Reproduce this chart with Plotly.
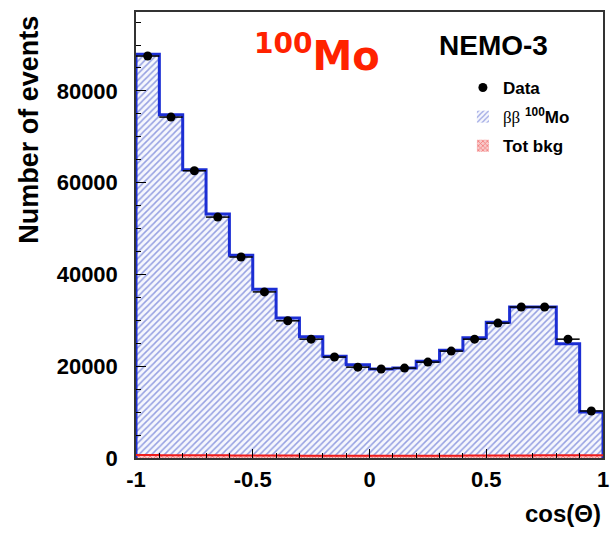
import plotly.graph_objects as go

# Angular distribution between the two electrons, 20 bins over [-1, 1]
bin_edges = [round(-1 + 0.1 * i, 1) for i in range(21)]
bin_centers = [round(-0.95 + 0.1 * i, 2) for i in range(20)]

data_counts = [87600, 74300, 62600, 52500, 43800, 36200, 29900, 25900, 22000, 19800,
               19400, 19600, 20900, 23300, 25900, 29400, 32900, 32900, 25900, 10250]
bkg_counts = [650, 620, 600, 580, 560, 540, 520, 510, 500, 500,
              500, 500, 500, 510, 520, 540, 560, 580, 600, 620]
total_mc = [88000, 74800, 62800, 53200, 44200, 36800, 30500, 26400, 22200, 20300,
            19400, 19600, 21100, 23500, 26200, 29600, 32900, 32900, 24900, 10000]
bb_counts = [t - b for t, b in zip(total_mc, bkg_counts)]

x_ticks = [-1, -0.5, 0, 0.5, 1]
x_tick_text = ["-1", "-0.5", "0", "0.5", "1"]
y_ticks = [0, 20000, 40000, 60000, 80000]
y_tick_text = ["0", "20000", "40000", "60000", "80000"]

BLUE = "#1c2ed4"
RED = "#ee1c1c"
FONT = "Liberation Sans"

fig = go.Figure()

# background (bottom of stack)
fig.add_trace(go.Bar(
    x=bin_centers, y=bkg_counts, width=0.1, name="Tot bkg",
    legendgroup="c", legendrank=3,
    marker=dict(color="#f4b6b6", line=dict(width=0),
                pattern=dict(shape="x", fgcolor=RED, bgcolor="#f8caca", size=4, solidity=0.4)),
))
# 2nu double beta spectrum stacked on top
fig.add_trace(go.Bar(
    x=bin_centers, y=bb_counts, width=0.1,
    name="<span style='font-family:Liberation Serif;font-weight:normal'>ββ</span> <sup>100</sup>Mo",
    legendgroup="b", legendrank=2,
    marker=dict(color="#f2f3fb", line=dict(width=0),
                pattern=dict(shape="/", fgcolor="#3549c6", bgcolor="#f6f7fd", size=4.5, solidity=0.33)),
))

# stepped outline of the total prediction
step_x = [bin_edges[0]] + bin_edges[:-1] + [bin_edges[-1], bin_edges[-1]]
step_y = [0] + total_mc + [total_mc[-1], 0]
fig.add_trace(go.Scatter(
    x=step_x, y=step_y, mode="lines", line=dict(color=BLUE, width=3, shape="hv"),
    showlegend=False, hoverinfo="skip",
))

# bottom red outline for the background
fig.add_trace(go.Scatter(
    x=[bin_edges[0]] + bin_edges[:-1] + [bin_edges[-1]],
    y=[bkg_counts[0]] + bkg_counts + [bkg_counts[-1]],
    mode="lines", line=dict(color=RED, width=2, shape="hv"),
    showlegend=False, hoverinfo="skip",
))

# data points with bin-width horizontal bars
fig.add_trace(go.Scatter(
    x=bin_centers, y=data_counts, mode="markers", name="Data",
    legendgroup="a", legendrank=1,
    marker=dict(color="black", size=9),
    error_x=dict(type="constant", value=0.05, color="black", thickness=1.5, width=0),
))

fig.update_layout(
    width=616, height=543,
    margin=dict(l=136, r=7, t=12, b=85),
    paper_bgcolor="white", plot_bgcolor="white",
    barmode="stack", bargap=0,
    showlegend=True,
    legend=dict(
        x=0.70, y=0.87, xanchor="left", yanchor="top",
        bgcolor="rgba(0,0,0,0)", borderwidth=0,
        font=dict(family=FONT, size=17, color="black", weight="bold"),
        traceorder="grouped", tracegroupgap=4, itemwidth=30,
    ),
    xaxis=dict(
        range=[-1, 1], tickvals=x_ticks, ticktext=x_tick_text,
        ticks="inside", ticklen=9, tickwidth=1, tickcolor="black",
        minor=dict(dtick=0.1, ticks="inside", ticklen=5, tickcolor="black"),
        showgrid=False, zeroline=False,
        showline=True, linecolor="#333", linewidth=1.5, mirror=True,
        tickfont=dict(family=FONT, size=22, color="black", weight="bold"),
        ticklabelstandoff=1,
    ),
    yaxis=dict(
        range=[0, 97200], tickvals=y_ticks, ticktext=y_tick_text,
        ticks="inside", ticklen=10, tickwidth=1, tickcolor="black",
        minor=dict(dtick=5000, ticks="inside", ticklen=5, tickcolor="black"),
        showgrid=False, zeroline=False,
        showline=True, linecolor="#333", linewidth=1.5, mirror=True,
        tickfont=dict(family=FONT, size=22, color="black", weight="bold"),
        ticklabelstandoff=12,
    ),
    annotations=[
        dict(text="Number of events", textangle=-90, xref="paper", yref="paper",
             x=-0.228, y=0.995, xanchor="center", yanchor="top", showarrow=False,
             font=dict(family=FONT, size=27, color="black", weight="bold")),
        dict(text="cos(Θ)", xref="paper", yref="paper", x=1.0, y=-0.125,
             xanchor="right", yanchor="middle", showarrow=False,
             font=dict(family=FONT, size=24, color="black", weight="bold")),
        dict(text="<sup>100</sup>Mo", xref="paper", yref="paper", x=0.388, y=0.908,
             xanchor="center", yanchor="middle", showarrow=False,
             font=dict(family="DejaVu Sans", size=40, color="#ff2200", weight="bold")),
        dict(text="NEMO-3", xref="paper", yref="paper", x=0.765, y=0.925,
             xanchor="center", yanchor="middle", showarrow=False,
             font=dict(family=FONT, size=28, color="black", weight="bold")),
    ],
)

fig.write_html("out.html")
